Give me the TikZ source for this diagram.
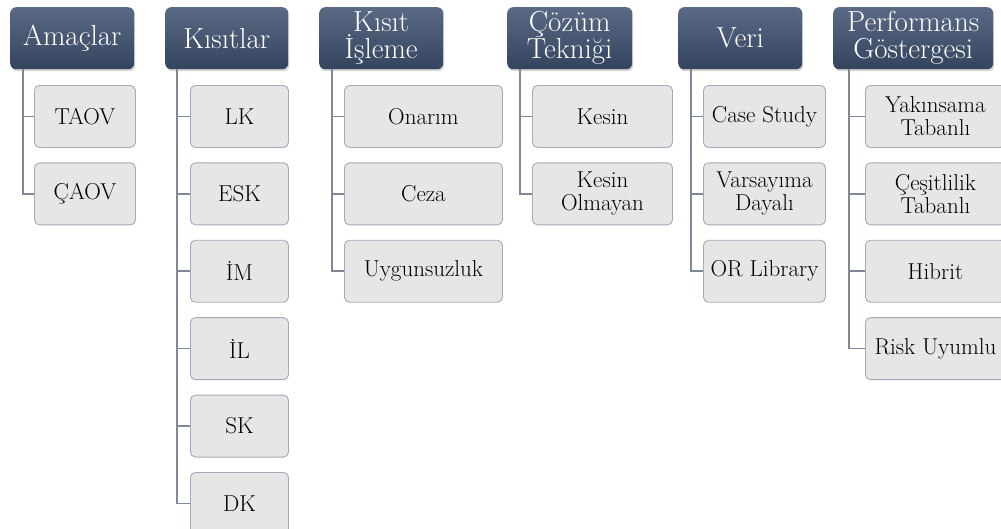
\documentclass[tikz,border=0pt]{standalone}
\usepackage{fontspec}
\usetikzlibrary{shadows}
\definecolor{headtop}{HTML}{5A6984}
\definecolor{headbot}{HTML}{34445F}
\definecolor{itemfill}{HTML}{E6E6E6}
\definecolor{itemline}{HTML}{A3AABA}
\definecolor{linkcol}{HTML}{7F8799}
\tikzset{
  head/.style={rounded corners=6pt, top color=headtop, bottom color=headbot,
    text=white, minimum height=62pt, anchor=north west, align=center,
    inner sep=0pt, font=\fontsize{29}{27}\selectfont,
    drop shadow={shadow xshift=1pt, shadow yshift=-2pt, opacity=0.35}},
  item/.style={rounded corners=5pt, draw=itemline, fill=itemfill, line width=0.9pt,
    minimum height=62pt, anchor=north west, align=center, inner sep=0pt,
    font=\fontsize{23}{23}\selectfont},
  link/.style={draw=linkcol, line width=1.6pt}
}
\begin{document}
\begin{tikzpicture}[x=1pt,y=-1pt]
	\useasboundingbox (0,0) rectangle (1001,528);

	% headers
	\node[head, minimum width=124pt] (h1) at (10,7) {Amaçlar};
	\node[head, minimum width=123pt] (h2) at (165,7) {Kısıtlar};
	\node[head, minimum width=124pt] (h3) at (319,7) {Kısıt\\İşleme};
	\node[head, minimum width=125pt] (h4) at (507,7) {Çözüm\\Tekniği};
	\node[head, minimum width=124pt] (h5) at (678,7) {Veri};
	\node[head, minimum width=160pt] (h6) at (833,7) {Performans\\Göstergesi};

	% children
	\foreach \i/\t in {0/TAOV,1/ÇAOV}
	    \node[item, minimum width=101pt] (a\i) at (34,{85+77.4*\i}) {\t};
	\foreach \i/\t in {0/LK,1/ESK,2/İM,3/İL,4/SK,5/DK}
	    \node[item, minimum width=98pt] (b\i) at (190,{85+77.4*\i}) {\t};
	\foreach \i/\t in {0/Onarım,1/Ceza,2/Uygunsuzluk}
	    \node[item, minimum width=158pt] (c\i) at (344,{85+77.4*\i}) {\t};
	\foreach \i/\t in {0/Kesin,1/{Kesin\\Olmayan}}
	    \node[item, minimum width=140pt] (d\i) at (532,{85+77.4*\i}) {\t};
	\foreach \i/\t in {0/Case Study,1/{Varsayıma\\Dayalı},2/OR Library}
	    \node[item, minimum width=122pt] (e\i) at (703,{85+77.4*\i}) {\t};
	\foreach \i/\t in {0/{Yakınsama\\Tabanlı},1/{Çeşitlilik\\Tabanlı},2/Hibrit,3/Risk Uyumlu}
	    \node[item, minimum width=140pt] (f\i) at (865,{85+77.4*\i}) {\t};

	% connectors
	\foreach \i in {0,1}
	    \draw[link] ([xshift=13pt]h1.south west) |- (a\i.west);
	\foreach \i in {0,...,5}
	    \draw[link] ([xshift=12pt]h2.south west) |- (b\i.west);
	\foreach \i in {0,1,2}
	    \draw[link] ([xshift=13pt]h3.south west) |- (c\i.west);
	\foreach \i in {0,1}
	    \draw[link] ([xshift=13pt]h4.south west) |- (d\i.west);
	\foreach \i in {0,1,2}
	    \draw[link] ([xshift=13pt]h5.south west) |- (e\i.west);
	\foreach \i in {0,...,3}
	    \draw[link] ([xshift=16pt]h6.south west) |- (f\i.west);
\end{tikzpicture}
\end{document}
